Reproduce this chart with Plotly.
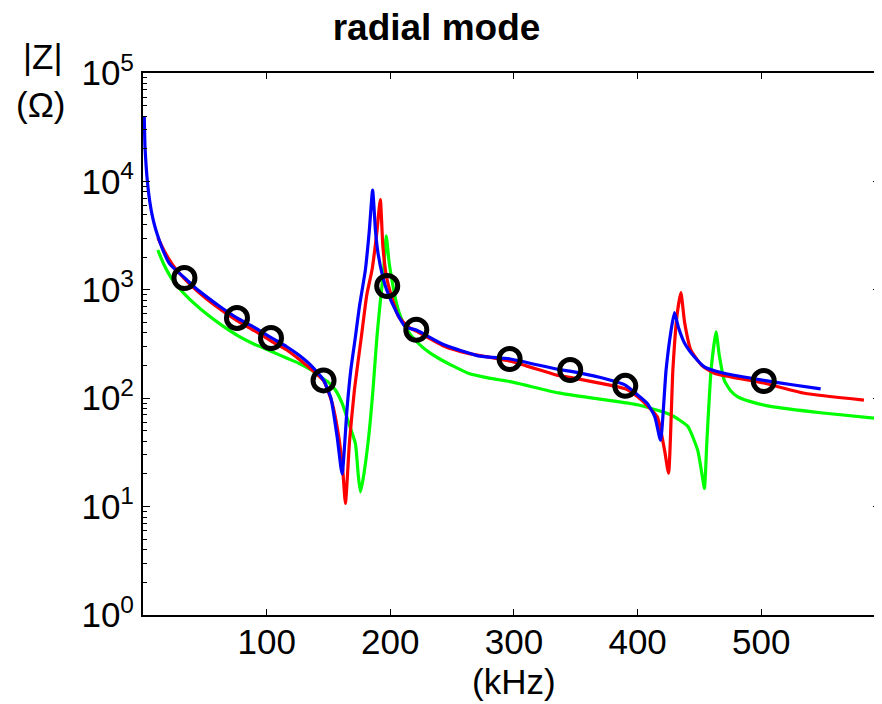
import plotly.graph_objects as go

# ---- data ----
blue_x = [1, 1.6, 2.5, 3.7, 5.5, 7.7, 10, 13, 17, 21, 27, 34, 42, 51, 63, 76, 90, 104, 116, 126, 136, 146,
          152, 157, 161, 165, 168, 171.8, 175, 179.8, 183, 185.7, 188, 190, 194, 197, 205, 212, 221, 244, 271,
          297, 336, 345, 370, 390, 400, 408, 414, 418.5, 423, 427, 429.8, 433, 438, 446, 454, 470, 502, 525, 548]
blue_y = [40000, 21000, 14000, 9600, 6500, 4700, 3700, 2900, 2200, 1770, 1500, 1280, 1050, 870, 690, 550, 450, 360, 300, 250, 200, 147,
          100, 44, 20, 80, 180, 370, 700, 1520, 3500, 8300, 3500, 2200, 1300, 1000, 620, 457, 425, 309, 246,
          230, 184, 178, 155, 132, 107, 89, 67, 41, 182, 420, 615, 450, 322, 240, 195, 170, 146, 133, 122]

red_x = [12, 17, 24, 34, 45, 58, 76, 90, 104, 116, 126, 136, 146, 153, 158.3, 161.5, 163.7, 167, 171, 176.6,
         181, 185.2, 189, 191.9, 194, 197, 202, 206.7, 215, 221, 244, 263, 297, 336, 345, 390, 400, 408, 416,
         421.8, 425, 428.5, 432, 435, 438, 443, 452, 462, 502, 535, 583]
red_y = [3020, 2300, 1700, 1250, 950, 720, 520, 420, 335, 280, 230, 185, 145, 90, 44, 22, 10.7, 40, 120, 370,
         900, 1520, 3300, 6800, 2500, 1300, 800, 565, 450, 415, 300, 259, 220, 162, 156, 122, 103, 85, 67,
         33, 20.3, 182, 600, 940, 500, 279, 200, 170, 138, 111, 96]

green_x = [12, 17, 24, 35, 51, 65, 78, 90, 104.5, 116, 126, 136, 143.5, 150, 155.6, 161, 166.4, 171.8, 174,
           175.8, 178, 182.5, 186, 189.2, 192, 194.6, 196.7, 199, 201.3, 205, 209.4, 216, 225.5, 232, 240, 250,
           263, 280, 297, 336, 370, 400, 427, 440.5, 448.6, 452, 454, 456, 459.4, 463.4, 466, 470, 475, 481,
           490, 507.5, 550, 600]
green_y = [2330, 1700, 1230, 880, 604, 460, 370, 315, 268, 235, 210, 182, 158, 140, 119, 90, 59, 38, 20,
           13.7, 18, 44, 120, 370, 800, 1520, 3150, 1800, 1230, 750, 527, 390, 299, 262, 230, 200,
           170, 153, 142, 112, 98, 87, 70, 55, 33, 20, 14.7, 40, 182, 410, 250, 147, 118, 103,
           94, 84, 73, 64]

circle_x = [33.5, 76, 103.5, 146, 197.5, 221, 296.5, 345.5, 390, 502]
circle_y = [1285, 550, 359, 146, 1084, 428, 230, 182, 130, 144]

x_tick_vals = [100, 200, 300, 400, 500]
y_tick_vals = [1, 10, 100, 1000, 10000, 100000]
y_tick_text = ["10<sup>0</sup>", "10<sup>1</sup>", "10<sup>2</sup>", "10<sup>3</sup>", "10<sup>4</sup>", "10<sup>5</sup>"]
y_minor_vals = [m * d for d in [1, 10, 100, 1000, 10000] for m in range(2, 10)]

FONT = "Liberation Sans, Arial, sans-serif"
LINE = dict(width=3.2, shape="spline", smoothing=0.5)

fig = go.Figure()
fig.add_trace(go.Scatter(x=green_x, y=green_y, mode="lines", line=dict(color="#00FF00", **LINE), showlegend=False))
fig.add_trace(go.Scatter(x=red_x, y=red_y, mode="lines", line=dict(color="#FF0000", **LINE), showlegend=False))
fig.add_trace(go.Scatter(x=blue_x, y=blue_y, mode="lines", line=dict(color="#0000FF", **LINE), showlegend=False))
fig.add_trace(go.Scatter(x=circle_x, y=circle_y, mode="markers",
                         marker=dict(symbol="circle-open", size=21, color="black", line=dict(width=5)),
                         showlegend=False))

# the page body has an 8px margin, so the figure is 8px smaller and offset
fig.update_layout(
    width=874, height=696,
    margin=dict(l=135, r=0, t=65, b=89),
    paper_bgcolor="white", plot_bgcolor="white",
    font=dict(family=FONT, color="black"),
    title=dict(text="<b>radial mode</b>", font=dict(size=37, family=FONT, color="black"),
               x=428.5 / 874, xanchor="center", xref="container",
               y=1 - 19 / 696, yanchor="middle", yref="container"),
    showlegend=False,
)
fig.update_xaxes(
    range=[0, 596], tickvals=x_tick_vals, ticks="inside", ticklen=6, tickwidth=1, tickcolor="black",
    showline=True, linecolor="black", linewidth=2, mirror="ticks", showgrid=False, zeroline=False,
    tickfont=dict(size=35, family=FONT, color="black"), ticklabelstandoff=-5,
)
fig.update_yaxes(
    type="log", range=[0, 5], tickvals=y_tick_vals, ticktext=y_tick_text,
    ticks="inside", ticklen=7, tickwidth=1, tickcolor="black",
    showline=True, linecolor="black", linewidth=2, mirror="ticks", showgrid=False, zeroline=False,
    tickfont=dict(size=35, family=FONT, color="black"),
    minor=dict(tickmode="array", tickvals=y_minor_vals, ticks="inside", ticklen=4, tickcolor="black", showgrid=False),
)

fig.add_annotation(text="|Z|", xref="paper", yref="paper", x=(43 - 143) / 739, y=(615 - 57) / 542,
                   xanchor="center", yanchor="middle", showarrow=False, font=dict(size=35, family=FONT, color="black"))
fig.add_annotation(text="(Ω)", xref="paper", yref="paper", x=(40 - 143) / 739, y=(615 - 104) / 542,
                   xanchor="center", yanchor="middle", showarrow=False, font=dict(size=35, family=FONT, color="black"))
fig.add_annotation(text="(kHz)", xref="paper", yref="paper", x=(515 - 143) / 739, y=(615 - 681) / 542,
                   xanchor="center", yanchor="middle", showarrow=False, font=dict(size=35, family=FONT, color="black"))

fig.write_html("out.html")
